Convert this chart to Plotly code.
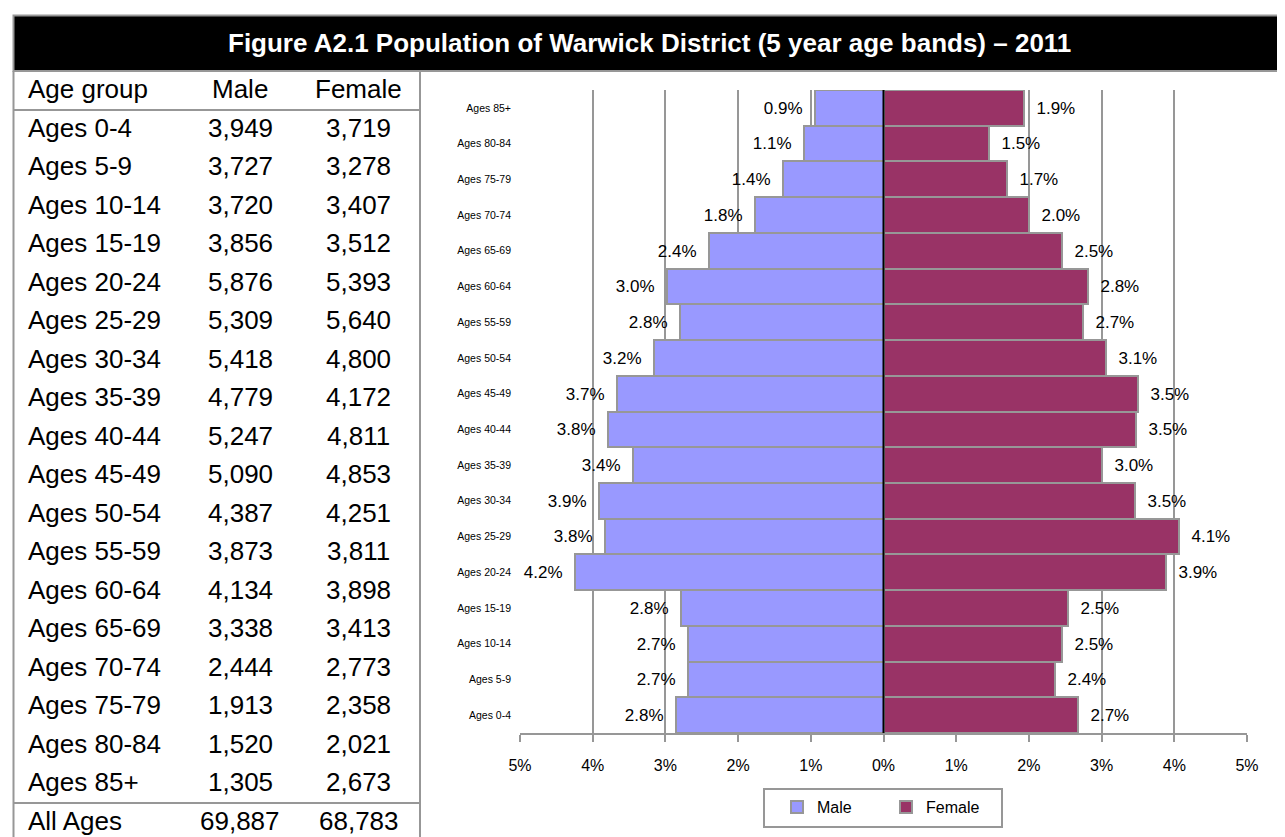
import plotly.graph_objects as go

# ---------------- data ----------------
age_groups = ["Ages 0-4", "Ages 5-9", "Ages 10-14", "Ages 15-19", "Ages 20-24",
              "Ages 25-29", "Ages 30-34", "Ages 35-39", "Ages 40-44", "Ages 45-49",
              "Ages 50-54", "Ages 55-59", "Ages 60-64", "Ages 65-69", "Ages 70-74",
              "Ages 75-79", "Ages 80-84", "Ages 85+"]
male = [3949, 3727, 3720, 3856, 5876, 5309, 5418, 4779, 5247, 5090,
        4387, 3873, 4134, 3338, 2444, 1913, 1520, 1305]
female = [3719, 3278, 3407, 3512, 5393, 5640, 4800, 4172, 4811, 4853,
          4251, 3811, 3898, 3413, 2773, 2358, 2021, 2673]
total_male = 69887
total_female = 68783
x_tickvals = [-5, -4, -3, -2, -1, 0, 1, 2, 3, 4, 5]
x_ticktext = ["5%", "4%", "3%", "2%", "1%", "0%", "1%", "2%", "3%", "4%", "5%"]
title_text = "Figure A2.1 Population of Warwick District (5 year age bands) \u2013 2011"

grand_total = total_male + total_female
male_pct = [m / grand_total * 100 for m in male]
female_pct = [f / grand_total * 100 for f in female]

# ---------------- style ----------------
W, H = 1285, 837
OFF = 8  # page body margin
GREY = "#979797"
MALE_C = "#9999FF"
FEMALE_C = "#993366"
FONT = "Arial, Liberation Sans, sans-serif"

def px(x):
    return (x - OFF) / W

def py(y):
    return 1 - (y - OFF) / H

fig = go.Figure()
fig.add_trace(go.Bar(
    y=age_groups, x=[-p for p in male_pct], orientation="h", name="Male",
    marker=dict(color=MALE_C, line=dict(color=GREY, width=2)),
    text=[f"{p:.1f}%\u00a0\u00a0" for p in male_pct], textposition="outside",
    textfont=dict(family=FONT, size=17, color="black"),
    constraintext="none", cliponaxis=False, hoverinfo="skip",
))
fig.add_trace(go.Bar(
    y=age_groups, x=female_pct, orientation="h", name="Female",
    marker=dict(color=FEMALE_C, line=dict(color=GREY, width=2)),
    text=[f"\u00a0\u00a0{p:.1f}%" for p in female_pct], textposition="outside",
    textfont=dict(family=FONT, size=17, color="black"),
    constraintext="none", cliponaxis=False, hoverinfo="skip",
))

fig.update_layout(
    width=W, height=H,
    margin=dict(l=0, r=0, t=0, b=0, autoexpand=False),
    paper_bgcolor="white", plot_bgcolor="white",
    barmode="relative", bargap=0,
    font=dict(family=FONT, color="black"),
    xaxis=dict(
        domain=[px(520), px(1247)], range=[-5, 5],
        tickvals=x_tickvals, ticktext=x_ticktext,
        showgrid=True, gridcolor=GREY, gridwidth=2,
        zeroline=False, showline=True, linecolor=GREY, linewidth=2,
        ticks="outside", ticklen=7, tickwidth=2, tickcolor=GREY,
        tickfont=dict(family=FONT, size=16), ticklabelstandoff=10,
        fixedrange=True, automargin=False,
    ),
    yaxis=dict(
        domain=[py(733), py(90)],
        categoryorder="array", categoryarray=age_groups,
        showgrid=False, zeroline=False, showline=False, ticks="",
        tickfont=dict(family=FONT, size=10.5), ticklabelstandoff=8,
        fixedrange=True, automargin=False,
    ),
    showlegend=True,
    legend=dict(
        orientation="h", x=px(777), xanchor="left", y=py(807), yanchor="middle",
        bgcolor="rgba(0,0,0,0)", borderwidth=0,
        font=dict(family=FONT, size=16), entrywidth=64, entrywidthmode="pixels",
        itemclick=False, itemdoubleclick=False,
    ),
)

shapes = []
# zero line above bars
shapes.append(dict(type="line", xref="x", yref="y domain", x0=0, x1=0, y0=0, y1=1,
                   line=dict(color="black", width=2), layer="above"))
# legend box
shapes.append(dict(type="rect", xref="paper", yref="paper",
                   x0=px(764), x1=px(1002), y0=py(827), y1=py(789),
                   fillcolor="white", line=dict(color=GREY, width=2), layer="below"))
# title bar
shapes.append(dict(type="rect", xref="paper", yref="paper",
                   x0=px(13.5), x1=px(1300), y0=py(71), y1=py(15.5),
                   fillcolor="black", line=dict(color=GREY, width=2), layer="above"))
# table borders
for (x0, y0, x1, y1) in [(13.5, 71, 13.5, 860), (420, 71, 420, 860),
                         (13.5, 110, 420, 110), (13.5, 803, 420, 803)]:
    shapes.append(dict(type="line", xref="paper", yref="paper",
                       x0=px(x0), x1=px(x1), y0=py(y0), y1=py(y1),
                       line=dict(color=GREY, width=2), layer="above"))
fig.update_layout(shapes=shapes)

ann = []
ann.append(dict(text=f"<b>{title_text}</b>", xref="paper", yref="paper",
                x=px(649), y=py(43), xanchor="center", yanchor="middle", showarrow=False,
                font=dict(family=FONT, size=26, color="white")))

TFS = 26
def row(label, mval, fval, yc):
    ann.append(dict(text=label, xref="paper", yref="paper", x=px(26), y=py(yc),
                    xanchor="left", yanchor="middle", showarrow=False,
                    font=dict(family=FONT, size=TFS, color="black")))
    ann.append(dict(text=mval, xref="paper", yref="paper", x=px(240), y=py(yc),
                    xanchor="center", yanchor="middle", showarrow=False,
                    font=dict(family=FONT, size=TFS, color="black")))
    ann.append(dict(text=fval, xref="paper", yref="paper", x=px(359), y=py(yc),
                    xanchor="center", yanchor="middle", showarrow=False,
                    font=dict(family=FONT, size=TFS, color="black")))

row("Age group", "Male", "Female", 89)
step = (782 - 128) / 17
for i, (g, m, f) in enumerate(zip(age_groups, male, female)):
    row(g, f"{m:,}", f"{f:,}", 128 + i * step)
row("All Ages", f"{total_male:,}", f"{total_female:,}", 821)
fig.update_layout(annotations=ann)

fig.write_html("out.html")
